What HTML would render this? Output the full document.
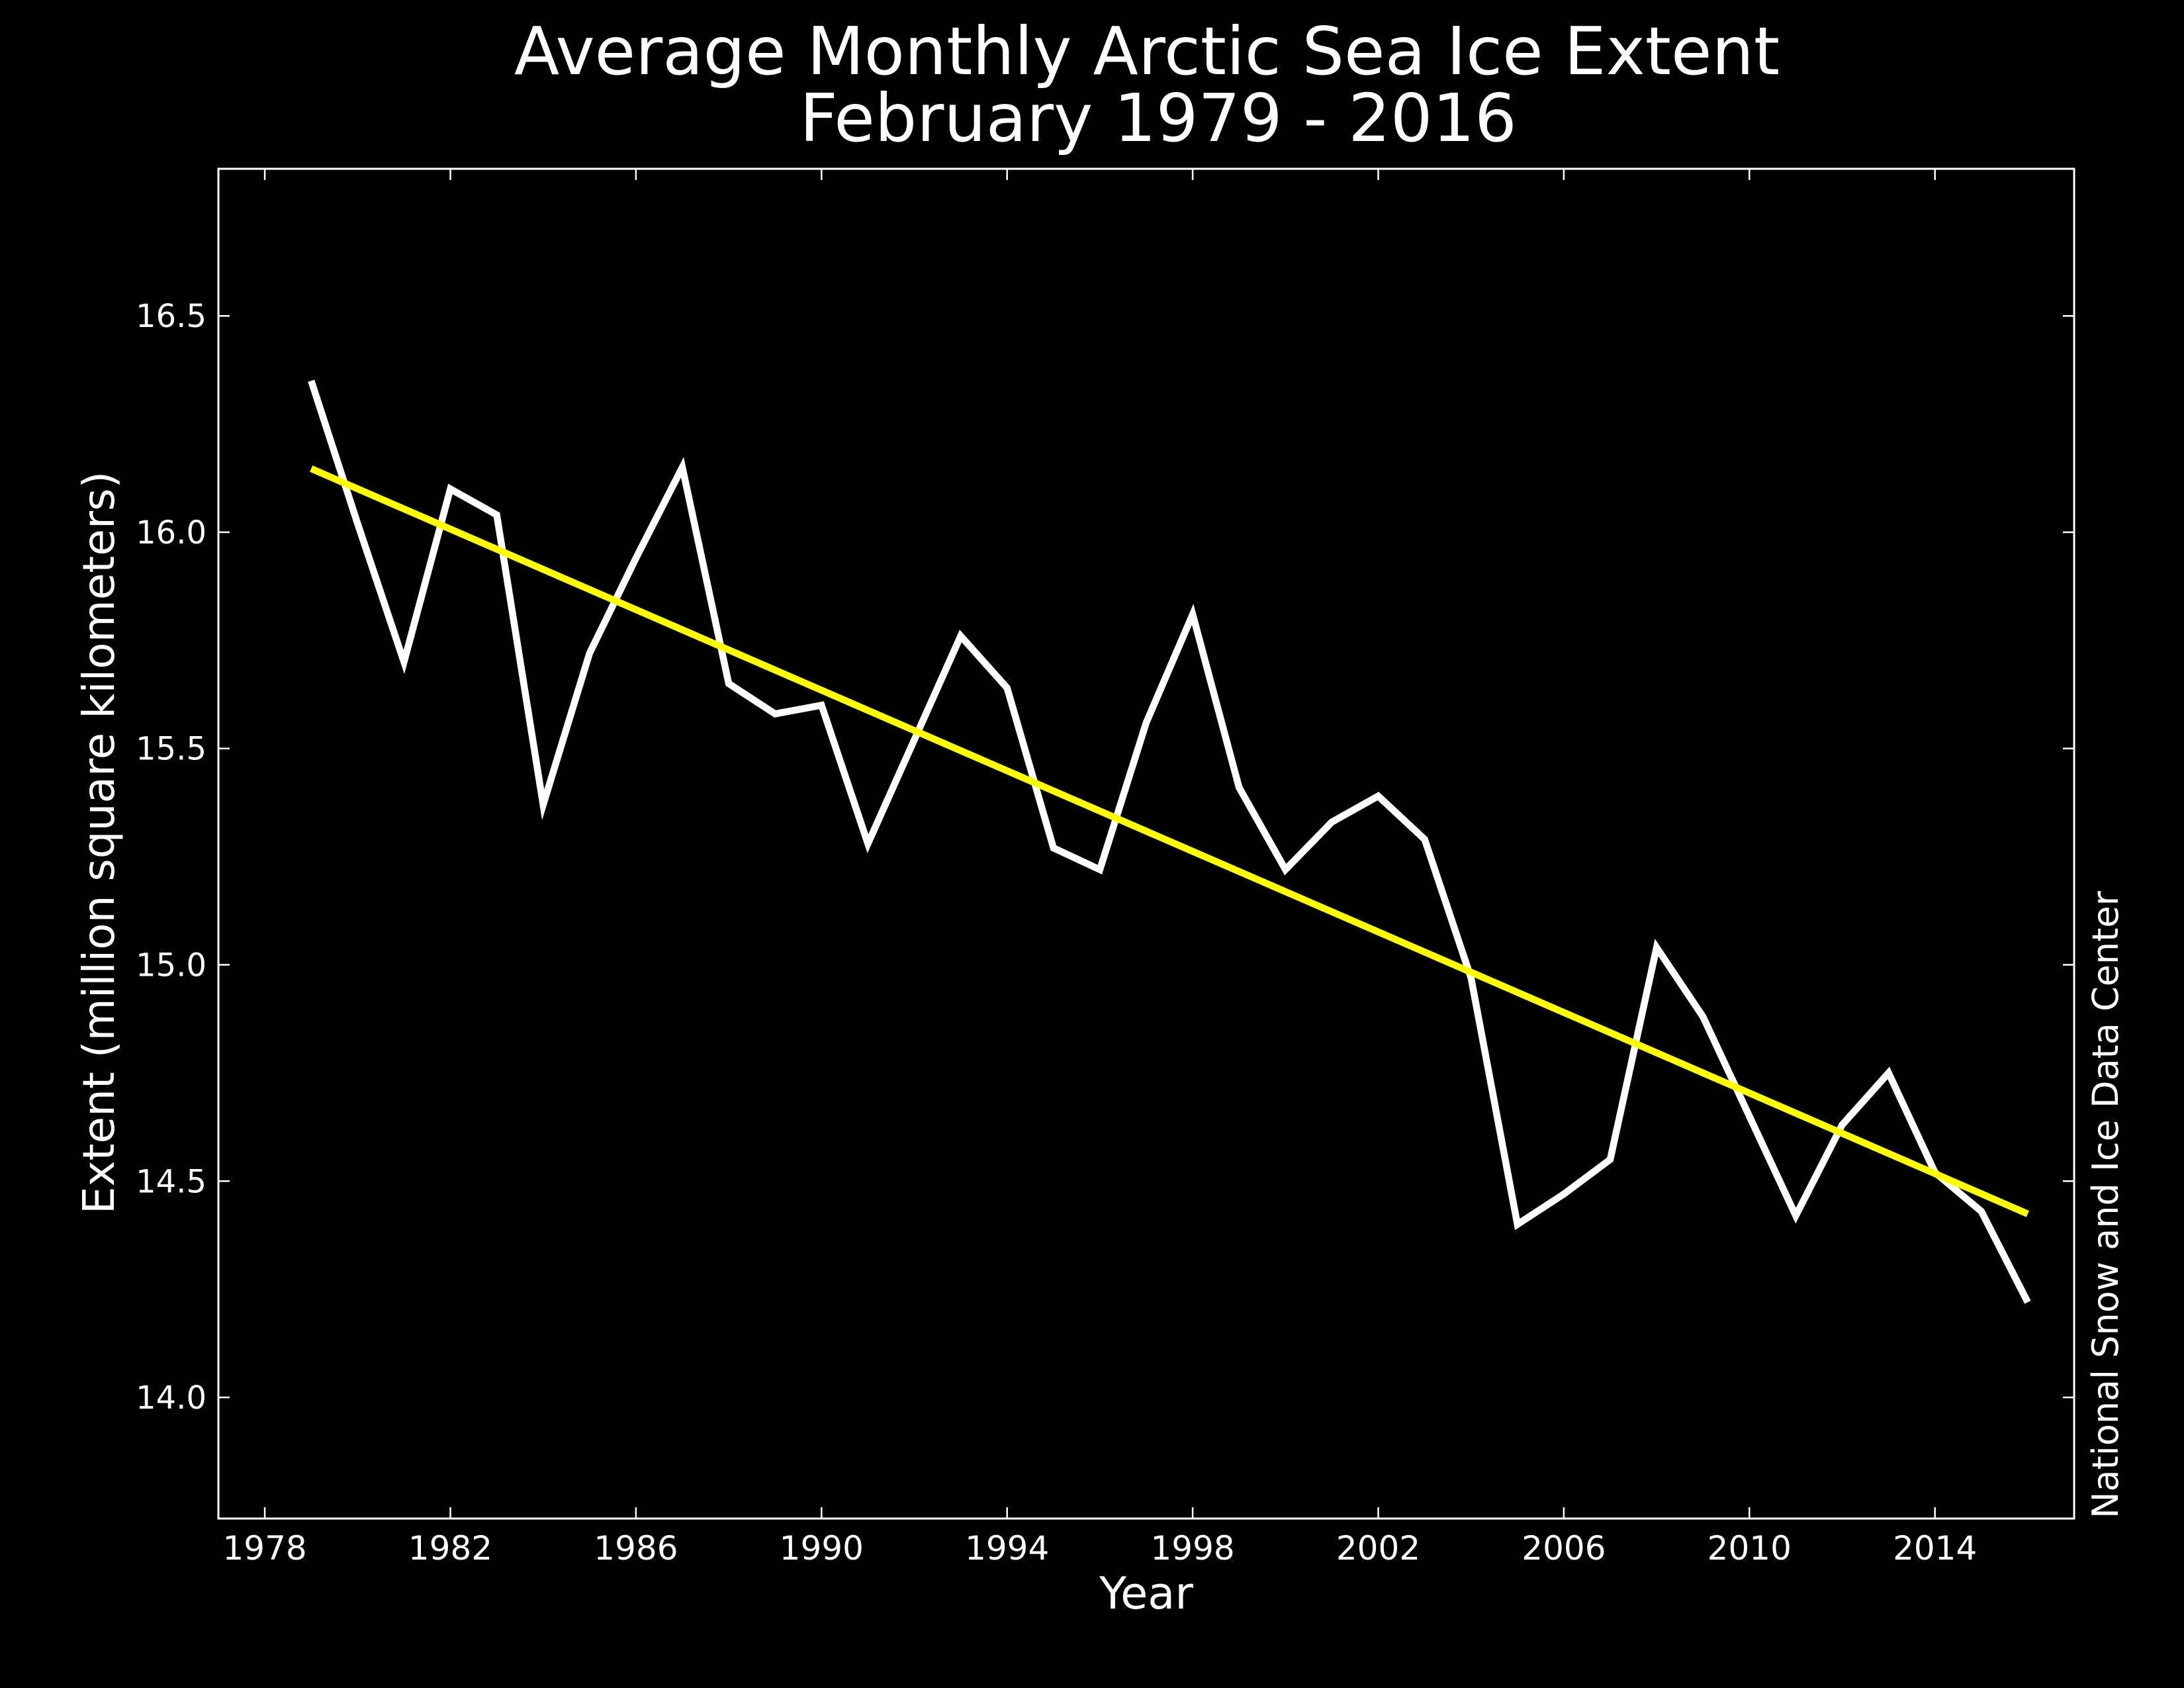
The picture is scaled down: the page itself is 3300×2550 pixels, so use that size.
<!DOCTYPE html>
<html>
<head>
<meta charset="utf-8">
<style>
html,body{margin:0;padding:0;background:#000;}
svg{display:block;}
text{font-family:"DejaVu Sans","Liberation Sans",sans-serif;fill:#fff;}
</style>
</head>
<body>
<svg id="chart" width="3300" height="2550" viewBox="0 0 3300 2550" xmlns="http://www.w3.org/2000/svg">
<rect width="3300" height="2550" fill="#000"/>
<text x="1733" y="112" font-size="100" text-anchor="middle">Average Monthly Arctic Sea Ice Extent</text>
<text x="1750" y="213" font-size="100" text-anchor="middle">February 1979 - 2016</text>
<g id="plot"></g>
<text x="1732" y="2430" font-size="67" text-anchor="middle">Year</text>
<text transform="translate(172,1273) rotate(-90)" font-size="66" text-anchor="middle">Extent (million square kilometers)</text>
<text transform="translate(3200,1820) rotate(-90)" font-size="54" text-anchor="middle">National Snow and Ice Data Center</text>
</svg>
<script>
const years = [1979,1980,1981,1982,1983,1984,1985,1986,1987,1988,1989,1990,1991,1992,1993,1994,1995,1996,1997,1998,1999,2000,2001,2002,2003,2004,2005,2006,2007,2008,2009,2010,2011,2012,2013,2014,2015,2016];
const extent = [16.35,16.02,15.70,16.10,16.04,15.37,15.72,15.94,16.15,15.65,15.58,15.60,15.28,15.52,15.76,15.64,15.27,15.22,15.56,15.81,15.41,15.22,15.33,15.39,15.29,14.97,14.40,14.47,14.55,15.04,14.88,14.65,14.42,14.63,14.75,14.52,14.43,14.22];
const xTicks = [1978,1982,1986,1990,1994,1998,2002,2006,2010,2014];
const yTicks = [14.0,14.5,15.0,15.5,16.0,16.5];
const yTickLabels = ["14.0","14.5","15.0","15.5","16.0","16.5"];

const L=330,R=3134,T=255,B=2294;
const xMin=1977,xMax=2017,yMin=13.72,yMax=16.84;
const sx=v=>L+(v-xMin)/(xMax-xMin)*(R-L);
const sy=v=>B-(v-yMin)/(yMax-yMin)*(B-T);
const NS="http://www.w3.org/2000/svg";
const g=document.getElementById('plot');
function mk(tag,attrs){const e=document.createElementNS(NS,tag);for(const k in attrs)e.setAttribute(k,attrs[k]);g.appendChild(e);return e;}

const tl=17;
xTicks.forEach(t=>{
  const x=sx(t);
  const a=mk('line',{x1:x,x2:x,y1:B,y2:B-tl,stroke:'#fff','stroke-width':2.5});
  
  
  const b=mk('line',{x1:x,x2:x,y1:T,y2:T+tl,stroke:'#fff','stroke-width':2.5});
  
  
  const lb=mk('text',{x:x,y:2356,'font-size':50,'text-anchor':'middle'});
  lb.textContent=String(t);
  
  
});
yTicks.forEach((t,i)=>{
  const y=sy(t);
  const a=mk('line',{x1:L,x2:L+tl,y1:y,y2:y,stroke:'#fff','stroke-width':2.5});
  
  
  const b=mk('line',{x1:R,x2:R-tl,y1:y,y2:y,stroke:'#fff','stroke-width':2.5});
  
  
  const lb=mk('text',{x:312,y:y+17,'font-size':48,'text-anchor':'end'});
  lb.textContent=yTickLabels[i];
  
  
});

const pts=years.map((y,i)=>sx(y)+','+sy(extent[i])).join(' ');
const line=mk('polyline',{points:pts,fill:'none',stroke:'#fff','stroke-width':10.5,'stroke-linejoin':'miter','stroke-miterlimit':10});



const n=years.length;
const mx=years.reduce((a,b)=>a+b,0)/n, my=extent.reduce((a,b)=>a+b,0)/n;
let sxy=0,sxx=0;
for(let i=0;i<n;i++){sxy+=(years[i]-mx)*(extent[i]-my);sxx+=(years[i]-mx)**2;}
const slope=sxy/sxx, icpt=my-slope*mx;
const y0=years[0],y1=years[n-1];
const trend=mk('line',{x1:sx(y0),y1:sy(icpt+slope*y0),x2:sx(y1),y2:sy(icpt+slope*y1),stroke:'#ffff00','stroke-width':10.5});



const fr=mk('rect',{x:L,y:T,width:R-L,height:B-T,fill:'none',stroke:'#fff','stroke-width':3});


</script>
</body>
</html>
